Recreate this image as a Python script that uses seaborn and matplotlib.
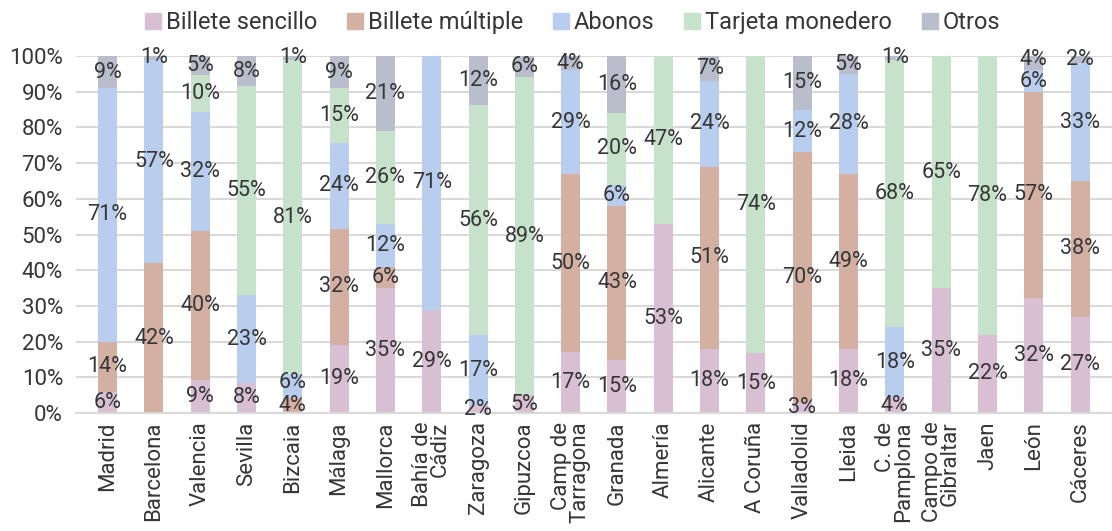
import numpy as np
import pandas as pd
import matplotlib
matplotlib.use("Agg")
import matplotlib.pyplot as plt
import seaborn as sns
from matplotlib.lines import Line2D
from matplotlib.ticker import PercentFormatter

# --- data (percent labels as shown; each bar is normalised to 100%) ---
cities = ["Madrid", "Barcelona", "Valencia", "Sevilla", "Bizcaia", "Málaga",
          "Mallorca", "Bahía de\nCádiz", "Zaragoza", "Gipuzcoa", "Camp de\nTarragona",
          "Granada", "Almería", "Alicante", "A Coruña", "Valladolid", "Lleida",
          "C. de\nPamplona", "Campo de\nGibraltar", "Jaen", "León", "Cáceres"]
series = ["Billete sencillo", "Billete múltiple", "Abonos", "Tarjeta monedero", "Otros"]

sencillo = [6, 0, 9, 8, 0, 19, 35, 29, 2, 5, 17, 15, 53, 18, 15, 3, 18, 4, 35, 22, 32, 27]
multiple = [14, 42, 40, 0, 4, 32, 6, 0, 0, 0, 50, 43, 0, 51, 0, 70, 49, 0, 0, 0, 57, 38]
abonos = [71, 57, 32, 23, 6, 24, 12, 71, 17, 0, 29, 6, 0, 24, 0, 12, 28, 18, 0, 0, 6, 33]
monedero = [0, 0, 10, 55, 81, 15, 26, 0, 56, 89, 0, 20, 47, 0, 74, 0, 0, 68, 65, 78, 0, 0]
otros = [9, 1, 5, 8, 1, 9, 21, 0, 12, 6, 4, 16, 0, 7, 0, 15, 5, 1, 0, 0, 4, 2]

colors = ["#D8BFD3", "#D4B0A3", "#B9CDEE", "#C6E2CB", "#BABDCC"]

df = pd.DataFrame({"city": cities, series[0]: sencillo, series[1]: multiple,
                   series[2]: abonos, series[3]: monedero, series[4]: otros})
raw = df[series].astype(float)
share = raw.div(raw.sum(axis=1), axis=0)
cum = share.cumsum(axis=1)

sns.set_theme(style="white")
plt.rcParams["font.family"] = ["Roboto", "DejaVu Sans"]
text_col = "#363636"

fig = plt.figure(figsize=(11.12, 5.31), dpi=100)
ax = fig.add_axes([0.068, 0.222, 0.932, 0.6725])

# stacked bars: draw cumulative totals from the top series down
for i in range(len(series) - 1, -1, -1):
    plot_df = pd.DataFrame({"city": cities, "top": cum[series[i]].values})
    sns.barplot(data=plot_df, x="city", y="top", color=colors[i], width=0.41,
                saturation=1, linewidth=0, ax=ax, zorder=2)

# segment labels (nudge apart when two small segments sit together)
for j in range(len(cities)):
    base = 0.0
    prev_y = None
    for s in series:
        v = raw.loc[j, s]
        h = share.loc[j, s]
        if v > 0:
            yc = base + h / 2
            dy = 0
            if prev_y is not None and yc - prev_y < 0.055:
                dy = 2.5
            ax.annotate(f"{int(v)}%", (j, yc), xytext=(0, dy), textcoords="offset points",
                        ha="center", va="center", fontsize=15.5, color=text_col, zorder=3)
            prev_y = yc
        base += h

ax.set_ylim(0, 1)
ax.set_xlim(-0.69, len(cities) - 0.31)
ax.set_yticks(np.arange(0, 1.01, 0.1))
ax.yaxis.set_major_formatter(PercentFormatter(1.0, decimals=0))
ax.yaxis.grid(True, color="#D9D9D9", linewidth=1.5, zorder=0)
ax.set_axisbelow(True)
ax.set_xlabel("")
ax.set_ylabel("")
for sp in ["left", "right", "top"]:
    ax.spines[sp].set_visible(False)
ax.spines["bottom"].set_color("#D9D9D9")
ax.spines["bottom"].set_linewidth(1.5)
ax.tick_params(axis="y", length=0, pad=9, labelsize=16, labelcolor=text_col)
ax.tick_params(axis="x", length=0, pad=6, labelsize=16, labelcolor=text_col)
ax.set_xticks(range(len(cities)))
ax.set_xticklabels(cities, rotation=90, ha="center", va="top", multialignment="right",
                   linespacing=0.8)

handles = [Line2D([0], [0], marker="s", linestyle="none", markersize=12,
                  markerfacecolor=c, markeredgecolor=c) for c in colors]
fig.legend(handles, series, loc="center", bbox_to_anchor=(0.513, 0.958), ncol=5,
           frameon=False, fontsize=17, handletextpad=0.05, columnspacing=1.1,
           labelcolor=text_col, handlelength=1.0)

fig.savefig("out.png", dpi=100)
